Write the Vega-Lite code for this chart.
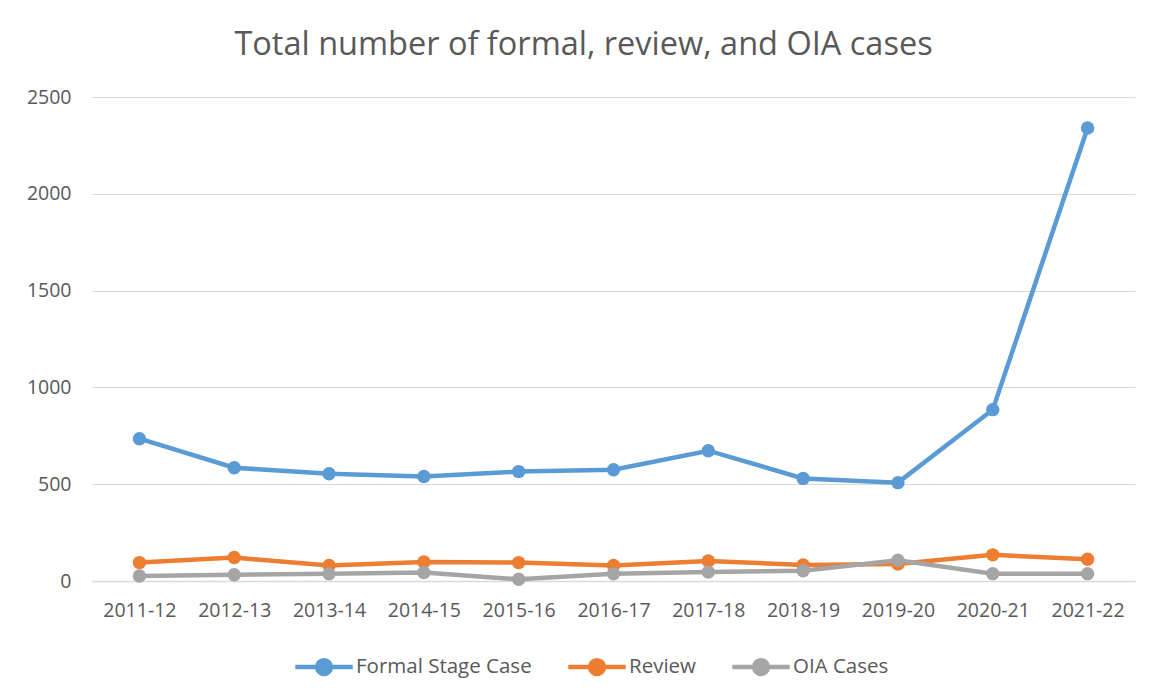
{
  "$schema": "https://vega.github.io/schema/vega-lite/v6.json",
  "autosize": "none",
  "width": 1043,
  "height": 484,
  "padding": {"left": 92, "top": 97, "right": 28, "bottom": 116},
  "background": "white",
  "title": {"text": "Total number of formal, review, and OIA cases", "fontSize": 32.5, "font": "Open Sans", "fontWeight": "normal", "color": "#595959", "offset": 26, "anchor": "middle", "dx": -30},
  "data": {"values": [
    {"year": "2011-12", "series": "Formal Stage Case", "value": 735},
    {"year": "2012-13", "series": "Formal Stage Case", "value": 585},
    {"year": "2013-14", "series": "Formal Stage Case", "value": 554},
    {"year": "2014-15", "series": "Formal Stage Case", "value": 540},
    {"year": "2015-16", "series": "Formal Stage Case", "value": 565},
    {"year": "2016-17", "series": "Formal Stage Case", "value": 575},
    {"year": "2017-18", "series": "Formal Stage Case", "value": 673},
    {"year": "2018-19", "series": "Formal Stage Case", "value": 530},
    {"year": "2019-20", "series": "Formal Stage Case", "value": 508},
    {"year": "2020-21", "series": "Formal Stage Case", "value": 885},
    {"year": "2021-22", "series": "Formal Stage Case", "value": 2340},
    {"year": "2011-12", "series": "Review", "value": 95},
    {"year": "2012-13", "series": "Review", "value": 121},
    {"year": "2013-14", "series": "Review", "value": 80},
    {"year": "2014-15", "series": "Review", "value": 98},
    {"year": "2015-16", "series": "Review", "value": 95},
    {"year": "2016-17", "series": "Review", "value": 80},
    {"year": "2017-18", "series": "Review", "value": 103},
    {"year": "2018-19", "series": "Review", "value": 83},
    {"year": "2019-20", "series": "Review", "value": 88},
    {"year": "2020-21", "series": "Review", "value": 135},
    {"year": "2021-22", "series": "Review", "value": 112},
    {"year": "2011-12", "series": "OIA Cases", "value": 26},
    {"year": "2012-13", "series": "OIA Cases", "value": 32},
    {"year": "2013-14", "series": "OIA Cases", "value": 37},
    {"year": "2014-15", "series": "OIA Cases", "value": 44},
    {"year": "2015-16", "series": "OIA Cases", "value": 9},
    {"year": "2016-17", "series": "OIA Cases", "value": 37},
    {"year": "2017-18", "series": "OIA Cases", "value": 46},
    {"year": "2018-19", "series": "OIA Cases", "value": 53},
    {"year": "2019-20", "series": "OIA Cases", "value": 107},
    {"year": "2020-21", "series": "OIA Cases", "value": 38},
    {"year": "2021-22", "series": "OIA Cases", "value": 38}
  ]},
  "mark": {"type": "line", "strokeWidth": 4.5, "point": {"size": 180, "filled": true, "opacity": 1}},
  "encoding": {
    "x": {"field": "year", "type": "ordinal", "sort": null,
      "scale": {"type": "point", "padding": 0.5},
      "axis": {"title": null, "labelAngle": 0, "labelFont": "Open Sans", "labelFontSize": 19.5, "labelColor": "#595959", "labelPadding": 20, "domain": true, "domainColor": "#d9d9d9", "domainWidth": 1.5, "ticks": false, "grid": false}},
    "y": {"field": "value", "type": "quantitative",
      "scale": {"domain": [0, 2500], "nice": false},
      "axis": {"title": null, "values": [0, 500, 1000, 1500, 2000, 2500], "format": "d", "labelFont": "Open Sans", "labelFontSize": 19.5, "labelColor": "#595959", "labelPadding": 21, "domain": false, "ticks": false, "gridColor": "#d9d9d9", "gridWidth": 1.2}},
    "color": {"field": "series", "type": "nominal",
      "sort": ["Formal Stage Case", "Review", "OIA Cases"],
      "scale": {"domain": ["Formal Stage Case", "Review", "OIA Cases"], "range": ["#5b9bd5", "#ed7d31", "#a5a5a5"]},
      "legend": {"orient": "none", "legendX": 201, "legendY": 539, "direction": "horizontal", "title": null,
        "labelFont": "Open Sans", "labelFontSize": 20.5, "labelColor": "#595959", "labelOffset": 1, "labelLimit": 400,
        "symbolType": "M-1,0 L1,0 M-0.24,0 A0.24,0.24 0 1,1 0.24,0 A0.24,0.24 0 1,1 -0.24,0 Z",
        "symbolSize": 3300, "symbolStrokeWidth": 4.5, "columnPadding": 27,
        "encode": {"symbols": {"update": {"fill": {"scale": "color", "field": "value"}}}}}}
  },
  "config": {"view": {"stroke": null}}
}
